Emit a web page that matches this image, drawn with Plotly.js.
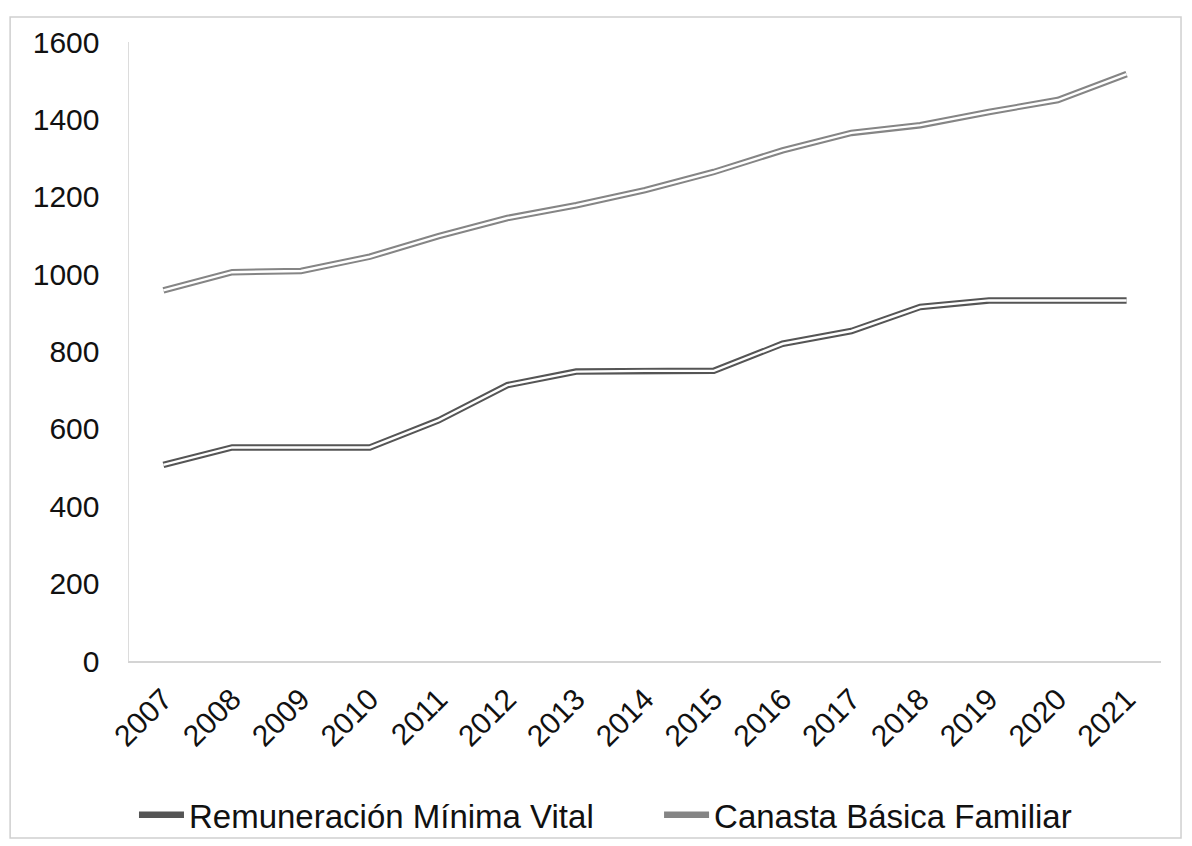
<!DOCTYPE html>
<html>
<head>
<meta charset="utf-8">
<script src="https://cdn.plot.ly/plotly-3.0.1.min.js"></script>
<style>html,body{margin:0;padding:0;background:#fff;}#chart{width:1192px;height:846px;}</style>
</head>
<body>
<div id="chart"></div>
<script>
const years = ['2007','2008','2009','2010','2011','2012','2013','2014','2015','2016','2017','2018','2019','2020','2021'];
const remuneracion = [507, 552, 552, 552, 622, 713, 748, 750, 750, 820, 853, 915, 932, 932, 932];
const canasta = [958, 1005, 1008, 1045, 1098, 1145, 1178, 1217, 1264, 1320, 1365, 1385, 1419, 1450, 1517];
const seriesNames = ['Remuneración Mínima Vital', 'Canasta Básica Familiar'];

const xIdx = years.map((_, i) => i);
const font = 'Liberation Sans, Arial, sans-serif';

function doubleLine(y, name, color, legendId) {
  return [
    {x: xIdx, y: y, type: 'scatter', mode: 'lines', name: name, legend: legendId,
     line: {color: color, width: 6.5}, hoverinfo: 'skip'},
    {x: xIdx, y: y, type: 'scatter', mode: 'lines', showlegend: false,
     line: {color: '#ffffff', width: 2.4}, hoverinfo: 'skip'}
  ];
}

const data = [
  ...doubleLine(remuneracion, seriesNames[0], '#555555', 'legend'),
  ...doubleLine(canasta, seriesNames[1], '#858585', 'legend2')
];

const legendBase = {
  orientation: 'h', xref: 'container', xanchor: 'left',
  yref: 'container', y: 0.037, yanchor: 'middle',
  font: {family: font, size: 33, color: '#111111'},
  bgcolor: 'rgba(0,0,0,0)', itemwidth: 45
};

const layout = {
  width: 1192, height: 846,
  paper_bgcolor: '#ffffff', plot_bgcolor: '#ffffff',
  margin: {l: 129, r: 31, t: 42, b: 185, autoexpand: false},
  font: {family: font, color: '#111111'},
  showlegend: true,
  xaxis: {
    range: [-0.5, 14.5], tickmode: 'array', tickvals: xIdx, ticktext: years,
    tickangle: -45, ticks: '', showgrid: false, zeroline: false,
    showline: true, linecolor: '#d4d4d4', linewidth: 1.5, automargin: false,
    tickfont: {family: font, size: 30, color: '#111111'},
    ticklabelstandoff: 7
  },
  yaxis: {
    range: [0, 1600], tickvals: [0,200,400,600,800,1000,1200,1400,1600],
    ticks: '', showgrid: false, zeroline: false, automargin: false,
    showline: true, linecolor: '#dcdcdc', linewidth: 1.5,
    tickfont: {family: font, size: 30, color: '#111111'},
    ticklabelstandoff: 22
  },
  legend: Object.assign({}, legendBase, {x: 0.1124}),
  legend2: Object.assign({}, legendBase, {x: 0.5529}),
  shapes: [
    {type: 'rect', xref: 'paper', yref: 'paper', x0: -0.1152, x1: 1.0194, y0: -0.286, y1: 1.0404,
     line: {color: '#cfcfcf', width: 1.5}, fillcolor: 'rgba(0,0,0,0)', layer: 'below'}
  ]
};

Plotly.newPlot('chart', data, layout, {displayModeBar: false, staticPlot: true});
</script>
</body>
</html>
